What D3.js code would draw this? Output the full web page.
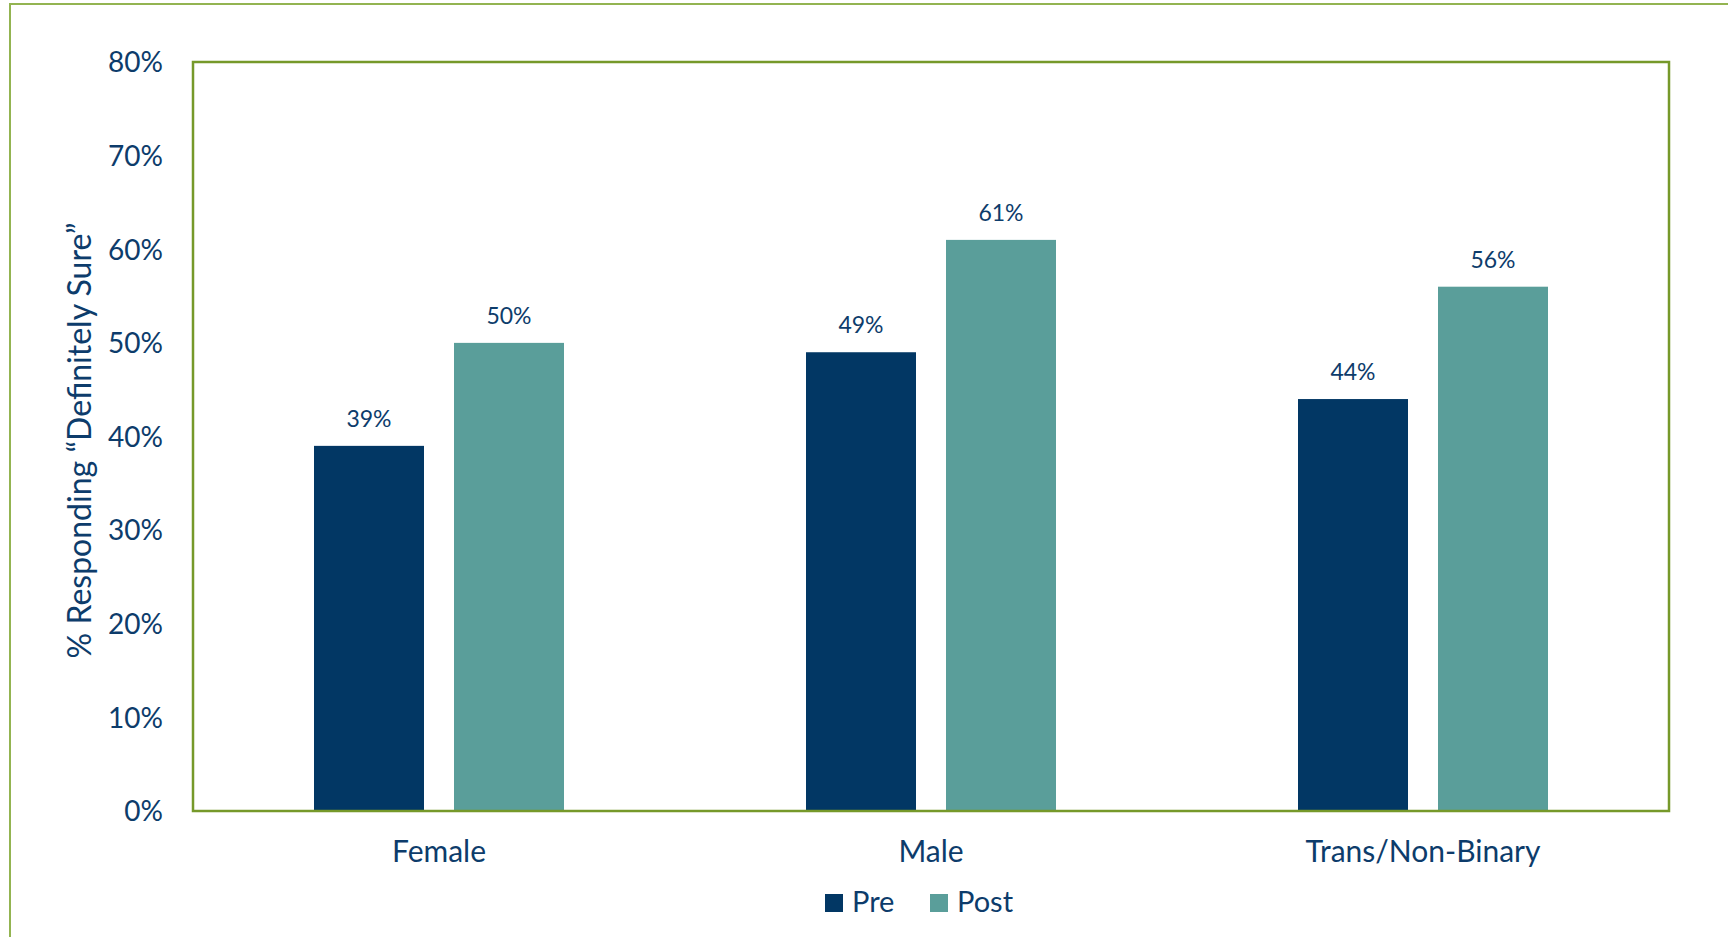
<!DOCTYPE html>
<html>
<head>
<meta charset="utf-8">
<script src="https://cdn.jsdelivr.net/npm/d3@7"></script>
<style>
  body { margin: 0; background: #fff; }
  svg text { font-family: Lato, "Open Sans", sans-serif; fill: #0d3c6b; }
</style>
</head>
<body>
<div id="canvas"></div>
<script>
// chart data
var groups = ["Female", "Male", "Trans/Non-Binary"];
var seriesNames = ["Pre", "Post"];
var preValues = [39, 49, 44];
var postValues = [50, 61, 56];
var yTicks = [0, 10, 20, 30, 40, 50, 60, 70, 80];
var colors = { Pre: "#023764", Post: "#5a9e9a" };

var w = 1728, h = 937;
var box = { left: 193, right: 1669, top: 62, bottom: 811 };

var svg = d3.select("#canvas").append("svg").attr("width", w).attr("height", h);

// outer frame
svg.append("rect")
    .attr("x", 10).attr("y", 4)
    .attr("width", w).attr("height", h)
    .attr("fill", "none")
    .attr("stroke", "#93b451")
    .attr("stroke-width", 2);

var x0 = d3.scaleBand().domain(groups).range([box.left, box.right]).padding(0);
var x1 = d3.scaleBand().domain(seriesNames)
    .range([121, x0.bandwidth() - 121])
    .paddingInner(30 / 140).paddingOuter(0);
var y = d3.scaleLinear().domain([0, 80]).range([box.bottom, box.top]);

var rows = groups.map(function(g, i) {
    return { group: g, values: [
        { key: "Pre", value: preValues[i] },
        { key: "Post", value: postValues[i] }
    ] };
});

// bars
var gGroup = svg.append("g").attr("name", "bars").selectAll("g")
    .data(rows).enter().append("g")
    .attr("transform", d => "translate(" + x0(d.group) + ",0)");

gGroup.selectAll("rect").data(d => d.values).enter().append("rect")
    .attr("x", d => x1(d.key))
    .attr("y", d => y(d.value))
    .attr("width", x1.bandwidth())
    .attr("height", d => y(0) - y(d.value))
    .attr("fill", d => colors[d.key]);

// value labels
gGroup.selectAll("text").data(d => d.values).enter().append("text")
    .attr("x", d => x1(d.key) + x1.bandwidth() / 2)
    .attr("y", d => y(d.value) - 19)
    .attr("text-anchor", "middle")
    .style("font-size", "23px")
    .text(d => d.value + "%");

// plot frame
svg.append("rect")
    .attr("x", box.left).attr("y", box.top)
    .attr("width", box.right - box.left).attr("height", box.bottom - box.top)
    .attr("fill", "none")
    .attr("stroke", "#76992a")
    .attr("stroke-width", 2.5);

// y axis
var yAxis = svg.append("g")
    .attr("transform", "translate(" + box.left + ",0)")
    .call(d3.axisLeft(y).tickValues(yTicks).tickSize(0).tickPadding(30).tickFormat(d => d + "%"));
yAxis.select(".domain").remove();
yAxis.selectAll("text").style("font-size", "28px").attr("dy", "0.35em").attr("fill", null);

// x axis
var xAxis = svg.append("g")
    .attr("transform", "translate(0," + box.bottom + ")")
    .call(d3.axisBottom(x0).tickSize(0).tickPadding(30));
xAxis.select(".domain").remove();
xAxis.selectAll("text").style("font-size", "30px").attr("dy", "0.71em").attr("fill", null);

// y title
svg.append("text")
    .attr("transform", "translate(91," + ((box.top + box.bottom) / 2 + 4) + ") rotate(-90)")
    .attr("text-anchor", "middle")
    .style("font-size", "32px")
    .text("% Responding \u201cDefinitely Sure\u201d");

// legend
var legend = svg.append("g").attr("name", "legend");
var legendX = [825, 930];
seriesNames.forEach(function(name, i) {
    legend.append("rect")
        .attr("x", legendX[i]).attr("y", 894)
        .attr("width", 18).attr("height", 18)
        .attr("fill", colors[name]);
    legend.append("text")
        .attr("x", legendX[i] + 27).attr("y", 912)
        .style("font-size", "29px")
        .text(name);
});
</script>
</body>
</html>
